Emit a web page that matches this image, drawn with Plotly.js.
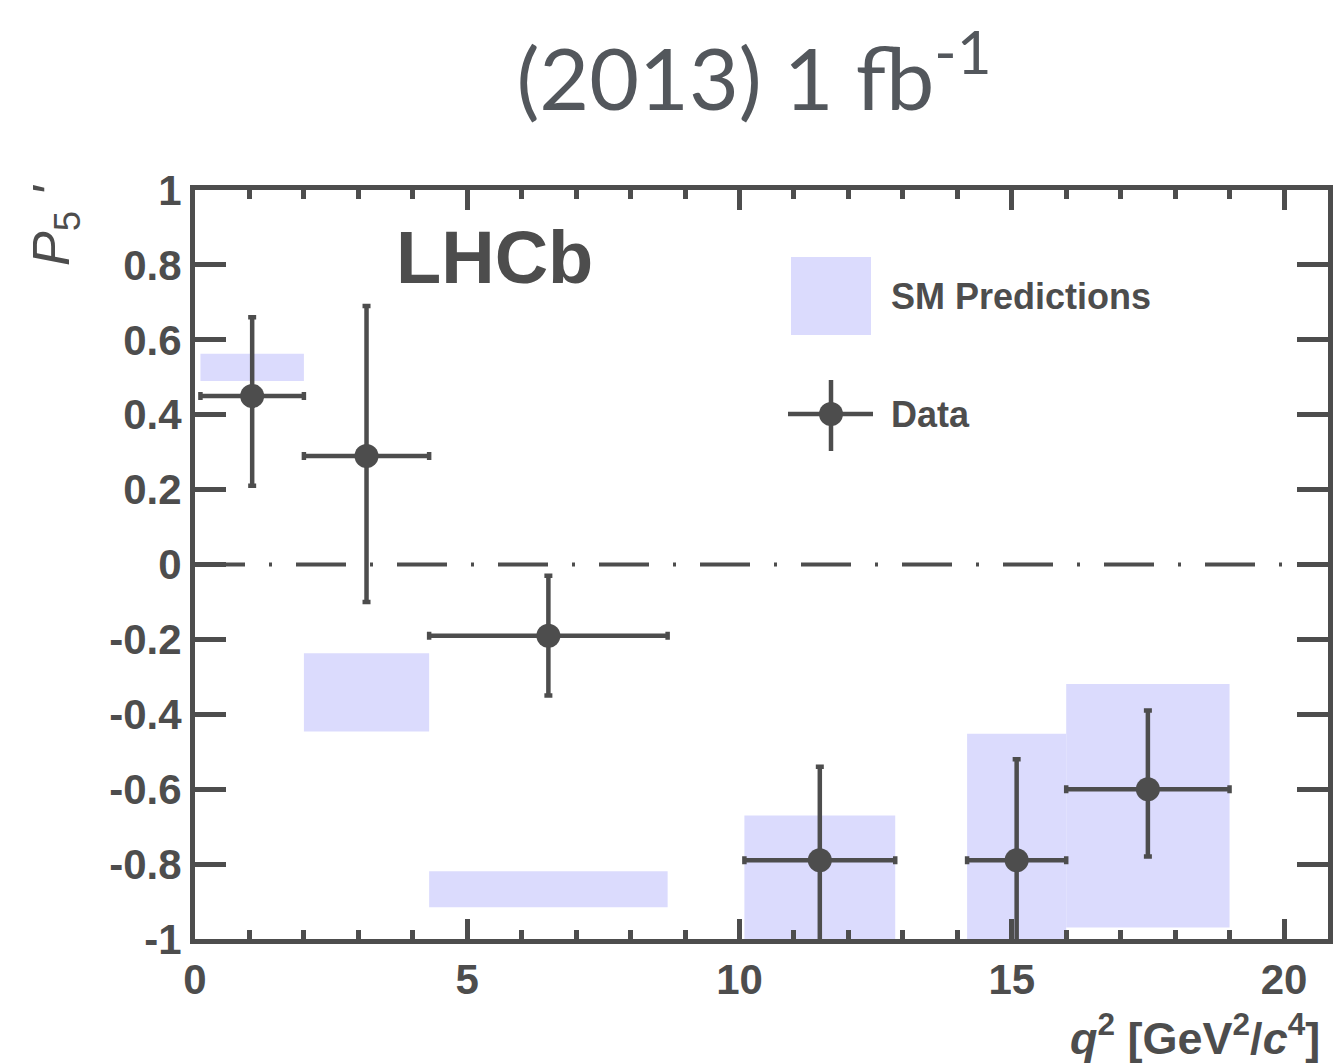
<!DOCTYPE html>
<html>
<head>
<meta charset="utf-8">
<script src="https://cdn.plot.ly/plotly-3.0.1.min.js"></script>
<style>html,body{margin:0;padding:0;background:#fff;}#chart{width:1338px;height:1063px;}</style>
</head>
<body>
<div id="chart"></div>
<script>
// ---- data ----
var binLow   = [0.1, 2.0, 4.3, 10.09, 14.18, 16.0];
var binHigh  = [2.0, 4.3, 8.68, 12.86, 16.0, 19.0];
var xCenter  = [1.05, 3.15, 6.49, 11.475, 15.09, 17.5];
var p5Data   = [0.45, 0.29, -0.19, -0.79, -0.79, -0.60];
var errPlus  = [0.21, 0.40, 0.16, 0.25, 0.27, 0.21];
var errMinus = [0.24, 0.39, 0.16, 0.24, 0.27, 0.18];
var smLow    = [0.49, -0.446, -0.915, -1.05, -1.05, -0.969];
var smHigh   = [0.563, -0.237, -0.819, -0.67, -0.452, -0.319];
var yTickVals = [1, 0.8, 0.6, 0.4, 0.2, 0, -0.2, -0.4, -0.6, -0.8, -1];
var yTickText = ["1", "0.8", "0.6", "0.4", "0.2", "0", "-0.2", "-0.4", "-0.6", "-0.8", "-1"];
var xTickVals = [0, 5, 10, 15, 20];
var xTickText = ["0", "5", "10", "15", "20"];

// ---- derived ----
var binCenter = binLow.map(function(l, i){ return (l + binHigh[i]) / 2; });
var binWidth  = binLow.map(function(l, i){ return binHigh[i] - l; });
var smHeight  = smLow.map(function(l, i){ return smHigh[i] - l; });
var exPlus    = xCenter.map(function(c, i){ return binHigh[i] - c; });
var exMinus   = xCenter.map(function(c, i){ return c - binLow[i]; });

var DARK = '#4d4d4d';
var BOX = '#dbdbfd';
var FONT = 'Liberation Sans, Arial, sans-serif';

// layout geometry helpers (page pixels -> paper)
var L = 195, R = 1328, T = 190, B = 939;
function fx(p){ return (p - L) / (R - L); }
function fy(p){ return (B - p) / (B - T); }

var traces = [
  {
    type: 'bar', x: binCenter, y: smHeight, base: smLow, width: binWidth,
    marker: {color: BOX, line: {width: 0}}, hoverinfo: 'skip', showlegend: false
  },
  {
    type: 'scatter', mode: 'markers', x: xCenter, y: p5Data,
    marker: {color: DARK, size: 24, line: {width: 0}},
    error_y: {type: 'data', symmetric: false, array: errPlus, arrayminus: errMinus,
              color: DARK, thickness: 4.5, width: 4},
    error_x: {type: 'data', symmetric: false, array: exPlus, arrayminus: exMinus,
              color: DARK, thickness: 4.5, width: 4},
    showlegend: false
  }
];

var tickFont = {family: FONT, size: 42, color: DARK, weight: 'bold'};

var layout = {
  width: 1338, height: 1063,
  margin: {l: L, r: 1338 - R, t: T, b: 1063 - B, pad: 0},
  paper_bgcolor: '#ffffff', plot_bgcolor: '#ffffff',
  showlegend: false,
  title: {
    text: '(2013) 1 fb<sup>-1</sup>',
    font: {family: 'Lato, sans-serif', size: 86, color: '#53575c'},
    x: fx(754), xref: 'paper', xanchor: 'center',
    y: 1 - 80 / 1063, yref: 'container', yanchor: 'middle'
  },
  xaxis: {
    range: [0, (R - L) / 54.45], showgrid: false, zeroline: false,
    showline: true, linecolor: DARK, linewidth: 5, mirror: 'allticks',
    ticks: 'inside', ticklen: 20, tickwidth: 5, tickcolor: DARK,
    tickmode: 'array', tickvals: xTickVals, ticktext: xTickText,
    tickfont: tickFont,
    minor: {ticks: 'inside', ticklen: 9, tickwidth: 5, tickcolor: DARK, dtick: 1, tick0: 0, showgrid: false}
  },
  yaxis: {
    range: [-1, 1], showgrid: false, zeroline: false,
    showline: true, linecolor: DARK, linewidth: 5, mirror: 'allticks',
    ticks: 'inside', ticklen: 31, tickwidth: 5, tickcolor: DARK,
    tickmode: 'array', tickvals: yTickVals, ticktext: yTickText,
    tickfont: tickFont
  },
  shapes: [
    {type: 'line', xref: 'paper', yref: 'y', x0: 0, x1: 1, y0: 0, y1: 0,
     line: {color: DARK, width: 4, dash: '50px,24px,3px,24px'}, layer: 'below'},
    // legend symbols
    {type: 'rect', xref: 'paper', yref: 'paper', x0: fx(791), x1: fx(871), y0: fy(335), y1: fy(257),
     fillcolor: BOX, line: {width: 0}},
    {type: 'line', xref: 'paper', yref: 'paper', x0: fx(788), x1: fx(873), y0: fy(414), y1: fy(414),
     line: {color: DARK, width: 4.5}},
    {type: 'line', xref: 'paper', yref: 'paper', x0: fx(831), x1: fx(831), y0: fy(380), y1: fy(451),
     line: {color: DARK, width: 4.5}},
    {type: 'circle', xref: 'paper', yref: 'paper', xsizemode: 'pixel', ysizemode: 'pixel',
     xanchor: fx(831), yanchor: fy(414), x0: -12, x1: 12, y0: -12, y1: 12,
     fillcolor: DARK, line: {width: 0}}
  ],
  annotations: [
    {text: 'LHCb', xref: 'paper', yref: 'paper', x: fx(394), y: fy(257), xanchor: 'left', yanchor: 'middle',
     showarrow: false, font: {family: FONT, size: 74, color: DARK, weight: 'bold'}},
    {text: 'SM Predictions', xref: 'paper', yref: 'paper', x: fx(889), y: fy(296), xanchor: 'left', yanchor: 'middle',
     showarrow: false, font: {family: FONT, size: 36, color: DARK, weight: 'bold'}},
    {text: 'Data', xref: 'paper', yref: 'paper', x: fx(889), y: fy(414), xanchor: 'left', yanchor: 'middle',
     showarrow: false, font: {family: FONT, size: 36, color: DARK, weight: 'bold'}},
    {text: '<i>P</i><sub>5</sub><i> \'</i>', xref: 'paper', yref: 'paper', x: fx(55), y: fy(226),
     xanchor: 'center', yanchor: 'middle', textangle: -90,
     showarrow: false, font: {family: FONT, size: 52, color: DARK}},
    {text: '<i>q</i><sup>2</sup> [GeV<sup>2</sup>/<i>c</i><sup>4</sup>]', xref: 'paper', yref: 'paper',
     x: fx(1322), y: fy(1035), xanchor: 'right', yanchor: 'middle',
     showarrow: false, font: {family: FONT, size: 45, color: DARK, weight: 'bold'}}
  ]
};

Plotly.newPlot('chart', traces, layout, {displayModeBar: false, staticPlot: true});
</script>
</body>
</html>
